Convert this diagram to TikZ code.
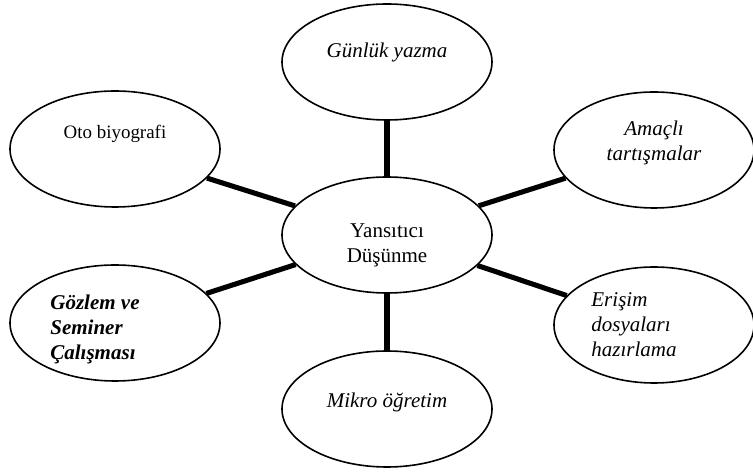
\documentclass[tikz,border=0pt]{standalone}
\usepackage{fontspec}
\setmainfont{Liberation Serif}
\usetikzlibrary{shapes.geometric}
\begin{document}
\begin{tikzpicture}[x=0.75pt,y=-0.75pt,
    bubble/.style={ellipse,draw,line width=1.2pt,minimum width=157.5pt,
      minimum height=87pt,inner sep=0pt},
    yazi/.style={inner sep=0pt,align=center,
      font=\fontsize{15.75}{18.75}\selectfont},
    slanted/.style={yazi,font=\fontsize{15.75}{18.75}\selectfont\itshape},
    spoke/.style={line width=3.8pt}]
  \useasboundingbox (0,0) rectangle (753,473);
  % ellipses
  \node[bubble] (merkez) at (387,235) {};
  \node[bubble] (gunluk) at (387,62) {};
  \node[bubble,minimum width=150pt] (amacli) at (654,150) {};
  \node[bubble,minimum width=150pt] (erisim) at (654,325) {};
  \node[bubble] (mikro) at (387,409) {};
  \node[bubble] (gozlem) at (115,323) {};
  \node[bubble] (oto) at (115,149) {};
  % texts
  \node[yazi] (merkezyazi) at ([yshift=-7.5pt]merkez) {Yansıtıcı\\Düşünme};
  \node[slanted] (gunlukyazi) at ([yshift=7.5pt]gunluk) {Günlük yazma};
  \node[slanted] (amacliyazi) at ([yshift=5pt]amacli) {Amaçlı\\tartışmalar};
  \node[slanted,align=left] (erisimyazi) at ([xshift=-15pt]erisim) {Erişim\\dosyaları\\hazırlama};
  \node[slanted] (mikroyazi) at ([yshift=5pt]mikro) {Mikro öğretim};
  \node[yazi,font=\fontsize{15.75}{18.75}\selectfont\bfseries\itshape,align=left]
    (gozlemyazi) at ([xshift=-15pt,yshift=-4.5pt]gozlem) {Gözlem ve\\Seminer\\Çalışması};
  \node[yazi,font=\fontsize{14.2}{17}\selectfont] (otoyazi) at ([yshift=11pt]oto) {Oto biyografi};
  % spokes
  \foreach \n in {gunluk,amacli,erisim,mikro,gozlem,oto}
    \draw[spoke] (merkez) -- (\n);
\end{tikzpicture}
\end{document}
